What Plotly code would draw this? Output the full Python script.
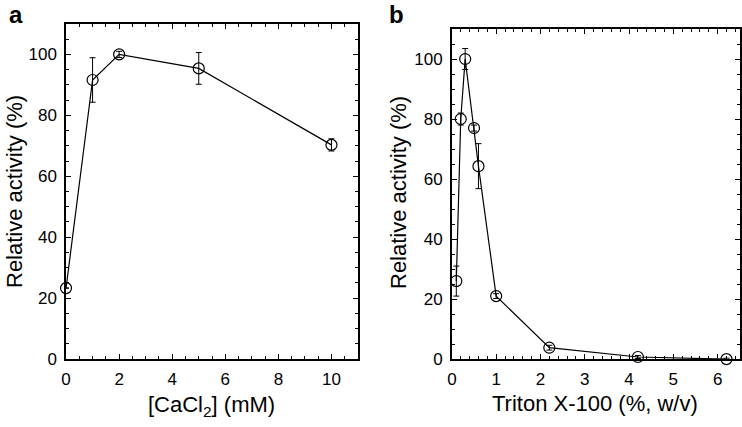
import plotly.graph_objects as go

# Panel a: CaCl2
ca_conc = [0, 1, 2, 5, 10]
ca_activity = [23.3, 91.6, 100.0, 95.4, 70.3]
ca_error = [0.0, 7.3, 1.0, 5.2, 2.0]

# Panel b: Triton X-100
tr_conc = [0.1, 0.2, 0.3, 0.5, 0.6, 1.0, 2.2, 4.2, 6.2]
tr_activity = [26.0, 80.0, 100.0, 77.0, 64.3, 21.0, 3.8, 0.7, 0.0]
tr_error = [5.0, 2.0, 3.5, 1.0, 7.5, 0.8, 0.8, 0.5, 0.3]

FONT = "Liberation Sans, Arial, Helvetica, sans-serif"

marker = dict(symbol="circle-open", size=11, color="black", line=dict(width=1.2, color="black"))
line = dict(color="black", width=1.2)

fig = go.Figure()
fig.add_trace(go.Scatter(
    x=ca_conc, y=ca_activity, mode="lines+markers", marker=marker, line=line,
    error_y=dict(type="data", array=ca_error, color="black", thickness=1, width=3),
    xaxis="x", yaxis="y", cliponaxis=False, showlegend=False))
fig.add_trace(go.Scatter(
    x=tr_conc, y=tr_activity, mode="lines+markers", marker=marker, line=line,
    error_y=dict(type="data", array=tr_error, color="black", thickness=1, width=3),
    xaxis="x2", yaxis="y2", cliponaxis=False, showlegend=False))

def ax(**kw):
    base = dict(showgrid=False, zeroline=False, showline=True, linecolor="black", linewidth=1.5,
                mirror="allticks", ticks="inside", ticklen=5, tickwidth=1, tickcolor="black",
                tickfont=dict(family=FONT, size=17, color="black"), automargin=False,
                ticklabelstandoff=4)
    base.update(kw)
    return base

minor_style = dict(ticks="inside", ticklen=3, tickwidth=1, tickcolor="black", showgrid=False)

fig.update_layout(
    width=742, height=427, margin=dict(l=0, r=0, t=0, b=0),
    paper_bgcolor="white", plot_bgcolor="white",
    font=dict(family=FONT, color="black"),
    xaxis=ax(domain=[0.089, 0.4825], range=[0, 11], tick0=0, dtick=2,
             minor=dict(dtick=0.5, **minor_style), anchor="y"),
    yaxis=ax(domain=[0.159, 0.944], range=[0, 110], tick0=0, dtick=20,
             minor=dict(dtick=5, **minor_style), anchor="x"),
    xaxis2=ax(domain=[0.609, 0.997], range=[0, 6.5], tick0=0, dtick=1,
              minor=dict(dtick=0.2, **minor_style), anchor="y2"),
    yaxis2=ax(domain=[0.159, 0.932], range=[0, 110], tick0=0, dtick=20,
              minor=dict(dtick=5, **minor_style), anchor="x2"),
)

ann = []
def txt(x, y, s, size=22, angle=0, bold=False):
    ann.append(dict(x=x, y=y, xref="paper", yref="paper", xanchor="center", yanchor="middle",
                    text=f"<b>{s}</b>" if bold else s, showarrow=False, textangle=angle,
                    font=dict(family=FONT, size=size, color="black")))

W, H = 742, 427
txt(16 / W, 1 - 14 / H, "a", size=24, bold=True)
txt(396 / W, 1 - 14 / H, "b", size=24, bold=True)
txt(14 / W, 1 - 192 / H, "Relative activity (%)", angle=-90)
txt(398 / W, 1 - 193 / H, "Relative activity (%)", angle=-90)
txt(211 / W, 1 - 406 / H, "[CaCl<sub>2</sub>] (mM)")
txt(595 / W, 1 - 403 / H, "Triton X-100 (%, w/v)")
fig.update_layout(annotations=ann)

fig.write_html("out.html", config={"displayModeBar": False},
               post_script="document.body.style.margin='0';document.body.style.overflow='hidden';")
